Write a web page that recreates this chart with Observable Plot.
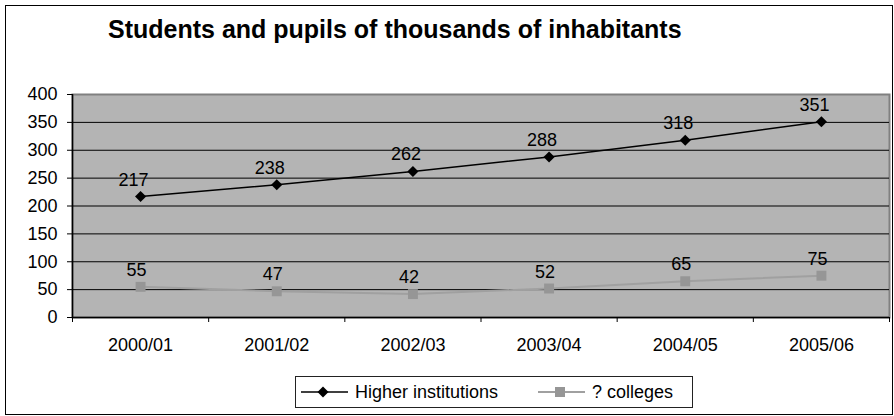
<!DOCTYPE html>
<html>
<head>
<meta charset="utf-8">
<script src="https://cdn.jsdelivr.net/npm/d3@7"></script>
<script src="https://cdn.jsdelivr.net/npm/@observablehq/plot@0.6"></script>
<style>
  html, body { margin: 0; padding: 0; background: #fff; }
  #wrap { position: relative; width: 894px; height: 416px; overflow: hidden; font-family: "Liberation Sans", Arial, sans-serif; color: #000; }
  #border { position: absolute; left: 5px; top: 5px; width: 888px; height: 410px; box-sizing: border-box; border: 1px solid #000; pointer-events: none; }
  #title { position: absolute; left: 108px; top: 17px; font-size: 25px; line-height: 25px; font-weight: bold; white-space: nowrap; }
  #chart { position: absolute; left: 0; top: 0; }
  #legend { position: absolute; left: 295px; top: 376px; width: 398px; height: 32px; box-sizing: border-box; border: 1px solid #222; background: #fff; }
  .item { position: absolute; top: 0; height: 30px; display: flex; align-items: center; font-size: 18px; white-space: nowrap; }
  .item svg { display: block; margin-right: 6px; }
</style>
</head>
<body>
<div id="wrap">
  <div id="chart"></div>
  <div id="border"></div>
  <div id="title">Students and pupils of thousands of inhabitants</div>
  <div id="legend"></div>
</div>
<script>
// ---- data ----
const categories = ["2000/01", "2001/02", "2002/03", "2003/04", "2004/05", "2005/06"];
const higherInstitutions = [217, 238, 262, 288, 318, 351];
const colleges = [55, 47, 42, 52, 65, 75];
const yTicks = [0, 50, 100, 150, 200, 250, 300, 350, 400];
const seriesNames = ["Higher institutions", "? colleges"];

const idx = categories.map((_, i) => i);
const bounds = d3.range(categories.length + 1).map(i => i - 0.5);
const innerGrid = yTicks.filter(t => t > 0 && t < 400);

const chart = Plot.plot({
  width: 894,
  height: 416,
  marginLeft: 72,
  marginRight: 5,
  marginTop: 94,
  marginBottom: 99,
  style: { fontFamily: "'Liberation Sans', Arial, sans-serif", fontSize: "18px", color: "#000", background: "transparent" },
  x: { type: "linear", domain: [-0.5, categories.length - 0.5], axis: null },
  y: { domain: [0, 400], axis: null },
  marks: [
    Plot.frame({ fill: "#b4b4b4", stroke: "#808080", strokeWidth: 2 }),
    Plot.ruleY(innerGrid, { stroke: "#000", strokeWidth: 1 }),
    Plot.ruleY([0], { stroke: "#000", strokeWidth: 1.5 }),
    Plot.ruleX([bounds[0]], { stroke: "#000", strokeWidth: 1.5 }),
    Plot.axisY(yTicks, { tickSize: 5, tickPadding: 10, label: null, stroke: "#000" }),
    Plot.axisX(bounds, { tickSize: 5, tickFormat: () => "", label: null, stroke: "#000" }),
    Plot.axisX(idx, { tickSize: 0, tickPadding: 21, tickFormat: i => categories[i], label: null }),
    // colleges series
    Plot.line(idx, { x: i => i, y: i => colleges[i], stroke: "#a0a0a0", strokeWidth: 2 }),
    Plot.dot(idx, { x: i => i, y: i => colleges[i], symbol: "square", r: 5.6, fill: "#969696", stroke: "none" }),
    Plot.text(idx, { x: i => i, y: i => colleges[i], text: i => String(colleges[i]), lineAnchor: "bottom", dy: -11, dx: -4, fill: "#000" }),
    // higher institutions series
    Plot.line(idx, { x: i => i, y: i => higherInstitutions[i], stroke: "#000", strokeWidth: 1.5 }),
    Plot.dot(idx, { x: i => i, y: i => higherInstitutions[i], symbol: "diamond2", r: 5, fill: "#000", stroke: "none" }),
    Plot.text(idx, { x: i => i, y: i => higherInstitutions[i], text: i => String(higherInstitutions[i]), lineAnchor: "bottom", dy: -11, dx: -7, fill: "#000" })
  ]
});
document.getElementById("chart").appendChild(chart);

// ---- legend ----
const legend = document.getElementById("legend");
const legendDefs = [
  { name: seriesNames[0], left: 5, color: "#000", marker: "diamond" },
  { name: seriesNames[1], left: 242, color: "#a0a0a0", marker: "square" }
];
legendDefs.forEach(d => {
  const item = document.createElement("div");
  item.className = "item";
  item.style.left = d.left + "px";
  const mk = d.marker === "diamond"
    ? `<path d="M22,-0.5 L27.5,5 L22,10.5 L16.5,5 Z" transform="translate(0,8)" fill="${d.color}"/>`
    : `<rect x="17" y="8" width="10" height="10" fill="#969696"/>`;
  item.innerHTML = `<svg width="48" height="26" viewBox="0 0 48 26"><line x1="0" y1="13" x2="47" y2="13" stroke="${d.color}" stroke-width="${d.marker === "diamond" ? 1.5 : 2}"/>${mk}</svg><span>${d.name}</span>`;
  legend.appendChild(item);
});
</script>
</body>
</html>
